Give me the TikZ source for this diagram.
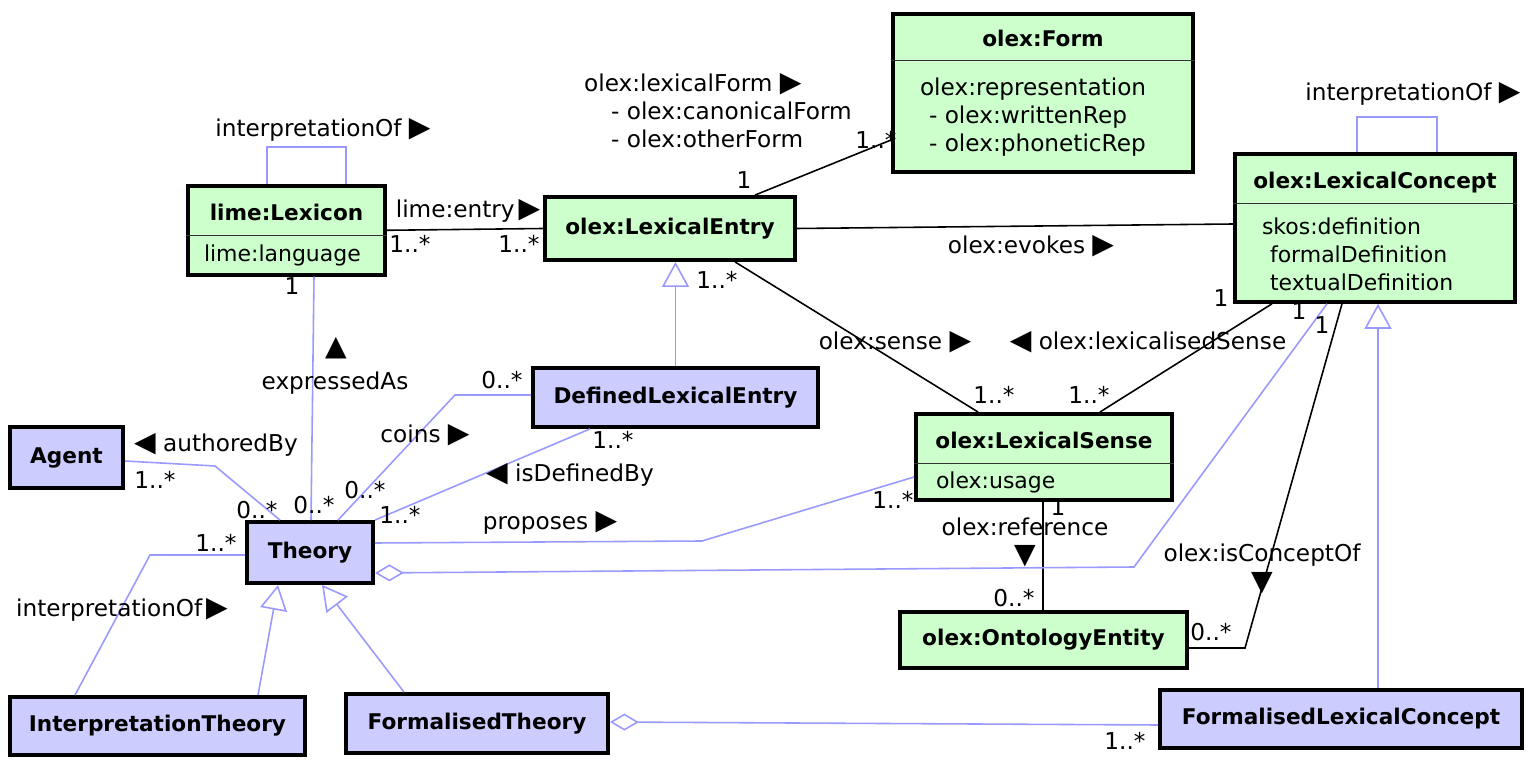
\documentclass[tikz,border=0pt]{standalone}
\usepackage{fontspec}
\setmainfont{DejaVu Sans}
\usepackage{xcolor}
\definecolor{classGreen}{HTML}{CCFFCC}
\definecolor{classBlue} {HTML}{CCCCFF}
\definecolor{assocBlue} {HTML}{9999FF}
\usetikzlibrary{arrows.meta, positioning, calc, shapes.multipart}
\newcommand{\topgap}[1]{\rule{0pt}{#1}}
\newcommand{\botgap}[1]{\rule[-#1]{0pt}{#1}}
\newcommand{\clsname}[1]{{\fontsize{12.3}{16}\selectfont\bfseries #1}}
% navigation triangles of the role names
\newcommand{\triR}{{\fontsize{16}{16}\selectfont ▶}}
\newcommand{\triL}{{\fontsize{16}{16}\selectfont ◀}}
\newcommand{\triU}{{\fontsize{16}{16}\selectfont ▲}}
\newcommand{\triD}{{\fontsize{16}{16}\selectfont ▼}}
\tikzset{
    cls/.style={draw, line width=2.2pt, inner xsep=0.2cm, inner ysep=0pt,
                font=\fontsize{12.5}{16}\selectfont},
    gcls/.style={cls, fill=classGreen},
    bcls/.style={cls, fill=classBlue},
    named/.style={font=\fontsize{12.3}{16}\selectfont\bfseries},
    twopart/.style={rectangle split, rectangle split parts=2,
                    rectangle split draw splits=false,
                    rectangle split part align={center,left}, align=left},
    divider/.style={line width=0.6pt, black!80},
    olexedge/.style={draw=black, line width=0.9pt},
    limeedge/.style={draw=assocBlue, line width=0.9pt},
    isa/.style={limeedge, -{Triangle[open, length=0.5cm, width=0.54cm]}},
    partof/.style={limeedge, {Diamond[open, length=0.58cm, width=0.34cm]}-},
}

\begin{document}
\begin{tikzpicture}[
    x=0.02cm, y=-0.02cm,
    lbl/.style={font=\fontsize{13.2}{16}\selectfont, inner sep=1pt},
    mult/.style={lbl},
    tri/.style={lbl, inner sep=0pt},
]
\useasboundingbox (0,0) rectangle (1528,766);

% --- classes ---
\node[gcls, twopart, minimum width=3.94cm, anchor=north] (lexicon) at (286.5,184)
    {\topgap{0.66cm}\botgap{0.26cm}\clsname{lime:Lexicon}\nodepart{two}\hspace*{0.12cm}\topgap{0.48cm}\botgap{0.22cm}lime:language};
\node[gcls, named, minimum width=5cm, minimum height=1.26cm] (entry) at (670,228.5) {olex:LexicalEntry};
\node[gcls, twopart, minimum width=6cm, anchor=north, font=\fontsize{13.2}{16}\selectfont] (form) at (1043,12)
    {\topgap{0.62cm}\botgap{0.24cm}\clsname{olex:Form}\nodepart{two}\hspace*{0.34cm}\topgap{0.66cm}olex:representation\\
     \hspace*{0.52cm}- olex:writtenRep\\
     \hspace*{0.52cm}- olex:phoneticRep\botgap{0.36cm}};
\node[gcls, twopart, minimum width=5.6cm, anchor=north] (concept) at (1375,152)
    {\topgap{0.66cm}\botgap{0.26cm}\clsname{olex:LexicalConcept}\nodepart{two}\hspace*{0.34cm}\topgap{0.58cm}skos:definition\\
     \hspace*{0.5cm}formalDefinition\\
     \hspace*{0.5cm}textualDefinition\botgap{0.18cm}};
\node[gcls, twopart, minimum width=5.12cm, anchor=north] (sense) at (1044,412)
    {\topgap{0.66cm}\botgap{0.26cm}\clsname{olex:LexicalSense}\nodepart{two}\hspace*{0.2cm}\topgap{0.46cm}\botgap{0.18cm}olex:usage};
\node[bcls, named, minimum width=5.7cm, minimum height=1.18cm] (defined) at (675.5,397.5) {DefinedLexicalEntry};
\node[bcls, named, minimum width=2.26cm, minimum height=1.22cm] (agent) at (66.5,457.5) {Agent};
\node[bcls, named, minimum width=2.52cm, minimum height=1.22cm] (theory) at (310,552.5) {Theory};
\node[gcls, named, minimum width=5.74cm, minimum height=1.12cm] (ontoentity) at (1043.5,640) {olex:OntologyEntity};
\node[bcls, named, minimum width=7.24cm, minimum height=1.16cm] (flconcept) at (1341,719) {FormalisedLexicalConcept};
\node[bcls, named, minimum width=5.24cm, minimum height=1.18cm] (ftheory) at (477,723.5) {FormalisedTheory};
\node[bcls, named, minimum width=5.9cm, minimum height=1.16cm] (itheory) at (157.5,726) {InterpretationTheory};

% compartment lines
\foreach \c in {lexicon, form, concept, sense}
    \draw[divider] (\c.text split west) -- (\c.text split east);

% --- olex associations ---
\draw[olexedge] (entry.north -| 755,0) -- (form.west |- 0,140);
\draw[olexedge] (entry.east) -- (concept.west |- 0,224);
\draw[olexedge] (entry.south -| 735,0) -- (sense.north -| 978,0);
\draw[olexedge] (sense.north -| 1100,0) -- (concept.south -| 1272,0);
\draw[olexedge] (sense.south -| 1043,0) -- (ontoentity.north -| 1043,0);
\draw[olexedge] (concept.south -| 1342,0) -- (1245,648) -- (ontoentity.east |- 0,648);
\draw[olexedge] (lexicon.east) -- (entry.west);

% --- other associations ---
\draw[limeedge] (lexicon.north -| 267,0) |- (346,147) -- (lexicon.north -| 346,0);
\draw[limeedge] (concept.north -| 1357,0) |- (1437,117) -- (concept.north -| 1437,0);
\draw[limeedge] (lexicon.south -| 314,0) -- (theory.north -| 311,0);
\draw[limeedge] (agent.east |- 0,461) -- (215,466) -- (theory.north -| 280,0);
\draw[limeedge] (theory.north -| 338,0) -- (455,395) -- (defined.west |- 0,395);
\draw[limeedge] (theory.north east) -- (defined.south -| 590,0);
\draw[limeedge] (theory.east |- 0,543) -- (702,541) -- (sense.west |- 0,477);
\draw[limeedge] (itheory.north -| 75,0) -- (150,555) -- (theory.west |- 0,555);
\draw[partof] (theory.east |- 0,573) -- (1134,567) -- (concept.south -| 1327,0);
\draw[partof] (ftheory.east |- 0,722) -- (flconcept.west |- 0,725);

% --- generalisations ---
\draw[isa] (defined.north) -- (defined.north |- entry.south);
\draw[isa] (itheory.north -| 258,0) -- (theory.south -| 278,0);
\draw[isa] (ftheory.north -| 404,0) -- (theory.south -| 322,0);
\draw[isa] (flconcept.north -| 1378,0) -- (concept.south -| 1378,0);

% --- role names ---
\node[lbl] (lexloop-lbl) at (323,130) {interpretationOf \triR};
\node[lbl] (conloop-lbl) at (1413,94) {interpretationOf \triR};
\node[lbl] (entry-lbl) at (468,211) {lime:entry\,\triR};
\node[lbl, align=left, anchor=north west] (form-lbl) at (582,71)
    {olex:lexicalForm \triR\\\hspace*{0.54cm}- olex:canonicalForm\\\hspace*{0.54cm}- olex:otherForm};
\node[lbl] (evokes-lbl) at (1031,246) {olex:evokes \triR};
\node[lbl] (sense-lbl) at (895,342) {olex:sense \triR};
\node[lbl] (lexsense-lbl) at (1148,342) {\triL\ olex:lexicalisedSense};
\node[tri] (expr-arrow) at (336,348) {\triU};
\node[lbl] (expr-lbl) at (335,383) {expressedAs};
\node[lbl] (coins-lbl) at (425,435) {coins \triR};
\node[lbl] (auth-lbl) at (216,445) {\triL\ authoredBy};
\node[lbl] (defby-lbl) at (570,475) {\triL\ isDefinedBy};
\node[lbl] (prop-lbl) at (550,523) {proposes \triR};
\node[lbl, inner sep=0pt] (ref-lbl) at (1025,527) {olex:reference};
\node[tri] (ref-arrow) at (1025,556) {\triD};
\node[lbl, inner sep=0pt] (conof-lbl) at (1262,555) {olex:isConceptOf};
\node[tri] (conof-arrow) at (1262,583) {\triD};
\node[lbl] (interp-lbl) at (122,610) {interpretationOf\,\triR};

% --- multiplicities ---
\node[mult] (m-lex-entry) at (410,244) {1..*};
\node[mult] (m-entry-lex) at (519,244) {1..*};
\node[mult] (m-lex-theory) at (292,286) {1};
\node[mult] (m-form) at (876,140) {1..*};
\node[mult] (m-entry-form) at (744,180) {1};
\node[mult] (m-entry-sense) at (717,280) {1..*};
\node[mult] (m-con-sense) at (1221,298) {1};
\node[mult] (m-con-theory) at (1299,311) {1};
\node[mult] (m-con-onto) at (1322,325) {1};
\node[mult] (m-sense-entry) at (994,395) {1..*};
\node[mult] (m-sense-con) at (1089,395) {1..*};
\node[mult] (m-def-coins) at (502,380) {0..*};
\node[mult] (m-def-defby) at (613,440) {1..*};
\node[mult] (m-agent) at (155,480) {1..*};
\node[mult] (m-th-auth) at (257,510) {0..*};
\node[mult] (m-th-expr) at (314,505) {0..*};
\node[mult] (m-th-coins) at (365,490) {0..*};
\node[mult] (m-th-defby) at (400,515) {1..*};
\node[mult] (m-th-interp) at (216,543) {1..*};
\node[mult] (m-sense-prop) at (893,500) {1..*};
\node[mult] (m-sense-ref) at (1058,507) {1};
\node[mult] (m-onto-ref) at (1014,598) {0..*};
\node[mult] (m-onto-con) at (1211,632) {0..*};
\node[mult] (m-flc) at (1125,741) {1..*};
\end{tikzpicture}
\end{document}
